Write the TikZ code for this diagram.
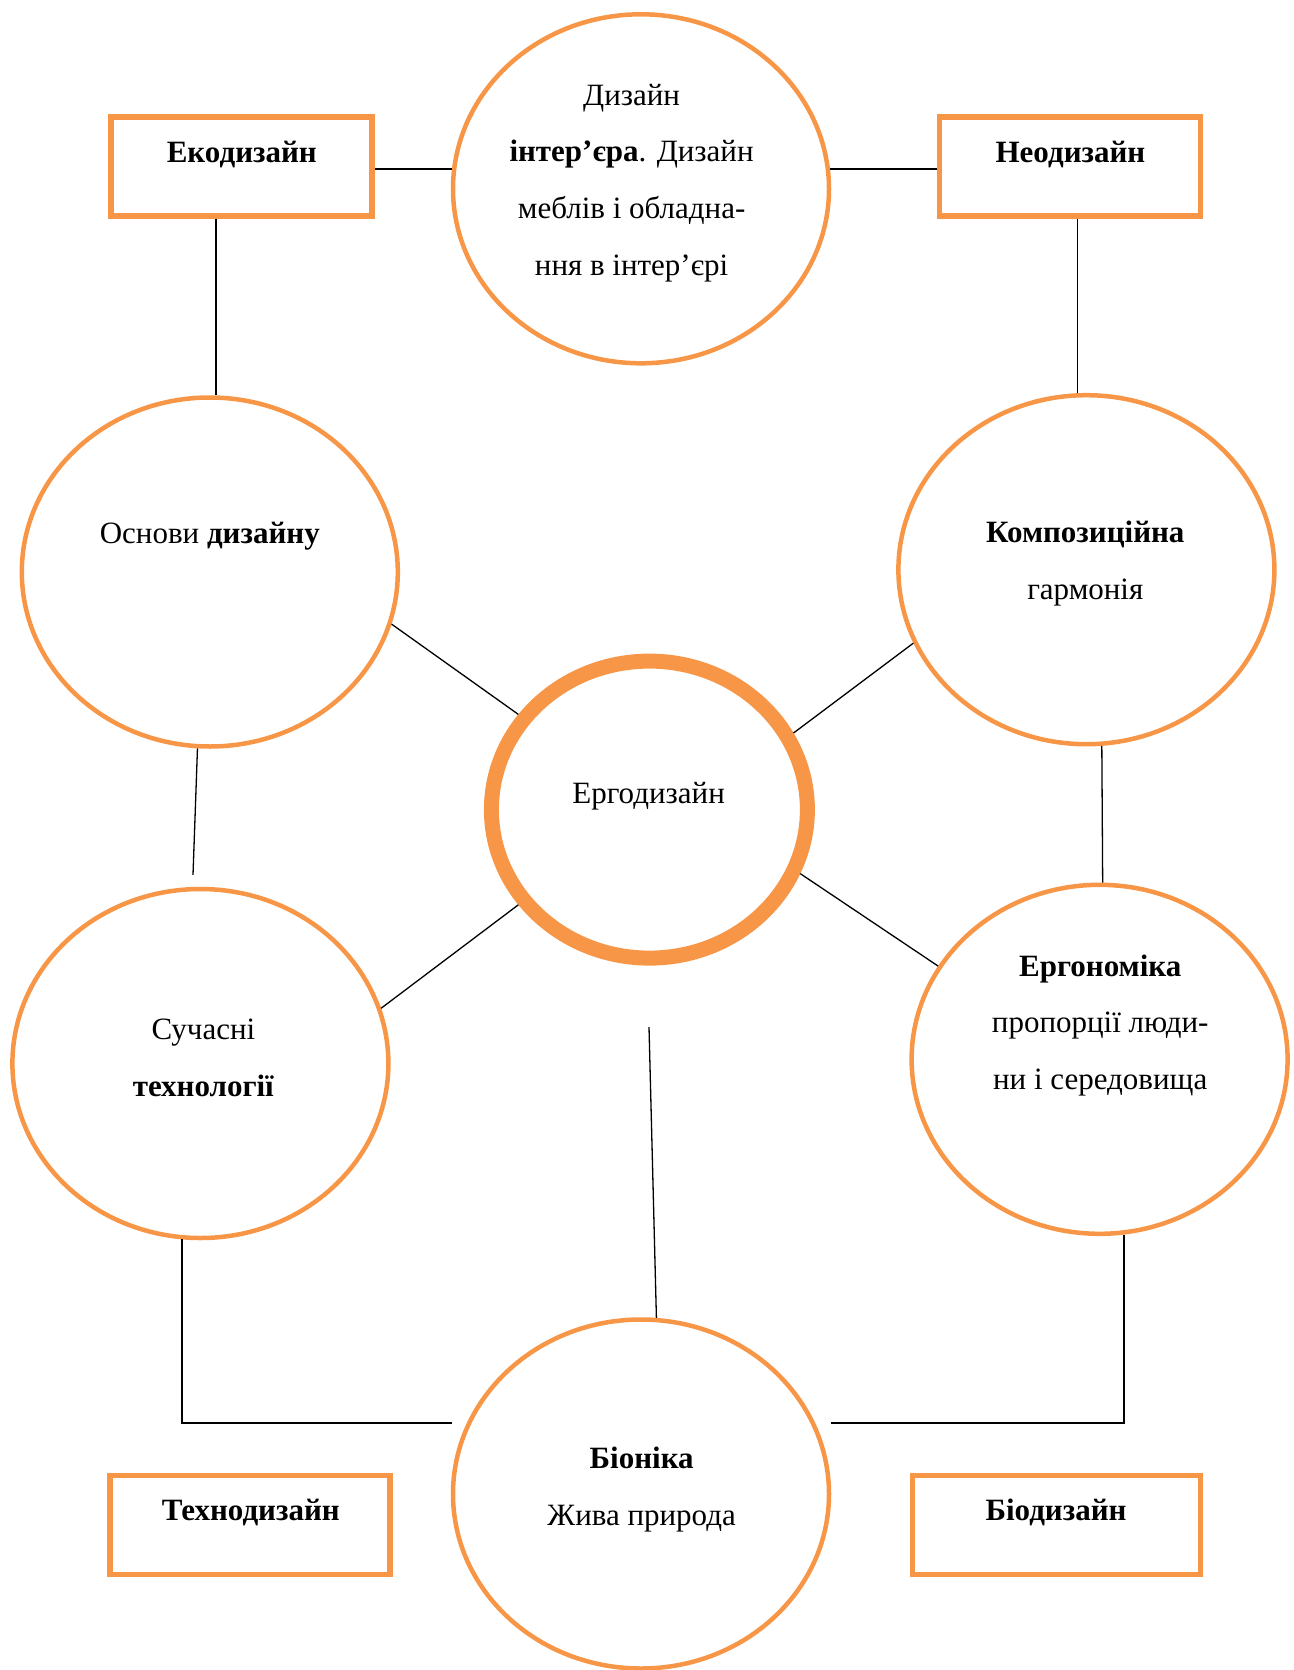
\documentclass[tikz,border=0pt]{standalone}
\usepackage{fontspec}
\setmainfont{Liberation Serif}
\usepackage{xcolor}
\usetikzlibrary{shapes.geometric, positioning, calc}

\definecolor{accentorange}{HTML}{F79646}

\begin{document}
\begin{tikzpicture}[
    x=1pt, y=-1pt,
    font=\fontsize{31}{56.8}\selectfont,
    % Node styles
    bubble/.style={ellipse, draw=accentorange, line width=4.5pt, minimum width=376pt, minimum height=349pt, inner sep=0pt},
    hub/.style={ellipse, draw=accentorange, line width=15pt, minimum width=316pt, minimum height=297pt, inner sep=0pt},
    tagbox/.style={rectangle, draw=accentorange, line width=5.5pt, minimum height=99pt, inner sep=0pt},
    txt/.style={align=center, inner sep=0pt},
    boldtxt/.style={txt, font=\fontsize{31}{56.8}\selectfont\bfseries},
    % Edge styles
    link/.style={draw=black, line width=1.3pt},
    rail/.style={draw=black, line width=2pt}
]
\useasboundingbox (0,0) rectangle (1293,1670);

% -----------------------------------------------------------
% Ellipses
% -----------------------------------------------------------
\node[bubble] (interior) at (641,188.8) {};
\node[bubble] (basics) at (209.8,572) {};
\node[bubble] (harmony) at (1086.4,569.7) {};
\node[hub] (ergo) at (649.4,809.6) {};
\node[bubble] (tech) at (200.4,1063.5) {};
\node[bubble] (ergonomics) at (1099.6,1059.3) {};
\node[bubble] (bionics) at (641,1494) {};

% -----------------------------------------------------------
% Boxes
% -----------------------------------------------------------
\node[tagbox, minimum width=261pt] (eco) at (241.5,166.3) {};
\node[tagbox, minimum width=261pt] (neo) at (1069.9,166.3) {};
\node[tagbox, minimum width=280pt] (techno) at (250,1524.8) {};
\node[tagbox, minimum width=288pt] (bio) at (1056.3,1524.8) {};

% -----------------------------------------------------------
% Texts
% -----------------------------------------------------------
\node[txt] (interior-t) at (631.6,183) {Дизайн\\\textbf{інтер’єра}. Дизайн\\меблів і обладна-\\ння в інтер’єрі};
\node[txt] (basics-t) at (209.8,536.6) {Основи \textbf{дизайну}};
\node[txt] (harmony-t) at (1085.3,563.8) {\textbf{Композиційна}\\гармонія};
\node[txt] (ergo-t) at (648.6,796.5) {Ергодизайн};
\node[txt] (tech-t) at (203.4,1057.5) {Сучасні\\\textbf{технології}};
\node[txt] (ergonomics-t) at (1100.2,1025.5) {\textbf{Ергономіка}\\пропорції люди-\\ни і середовища};
\node[txt] (bionics-t) at (641.7,1489.4) {\textbf{Біоніка}\\Жива природа};
\node[boldtxt] (eco-t) at (241.8,154.2) {Екодизайн};
\node[boldtxt] (neo-t) at (1070.4,154.2) {Неодизайн};
\node[boldtxt] (techno-t) at (250.8,1512.3) {Технодизайн};
\node[boldtxt] (bio-t) at (1056,1512.3) {Біодизайн};

% -----------------------------------------------------------
% Free ends
% -----------------------------------------------------------
\coordinate (basics-end) at (193,874.8);
\coordinate (ergo-foot) at (649,1027);
\coordinate (tech-end) at (451.9,1423);
\coordinate (ergonomics-end) at (831.2,1423);

% -----------------------------------------------------------
% Connectors
% -----------------------------------------------------------
\draw[rail] (interior.174 -| eco.east) -- (interior.174);
\draw[rail] (interior.6) -- (interior.6 -| neo.west);
\draw[link] (eco.south -| basics.88) -- (basics.88);
\draw[link] (neo.south -| harmony.93) -- (harmony.93);

\draw[link] (basics.-16.4) -- (ergo.144.2);
\draw[link] (harmony.-157.1) -- (ergo.28.6);
\draw[link] (ergo.-144.3) -- (tech.17.4);
\draw[link] (ergo.-23.7) -- (ergonomics.150.8);

\draw[link] (basics.-94.5) -- (basics-end);
\draw[link] (harmony.-85.3) -- (ergonomics.89.3);
\draw[link] (ergo-foot) -- (bionics.85.2);

\draw[rail] (tech.-96.1) |- (tech-end);
\draw[rail] (ergonomics.-82.9) |- (ergonomics-end);

\end{tikzpicture}
\end{document}
